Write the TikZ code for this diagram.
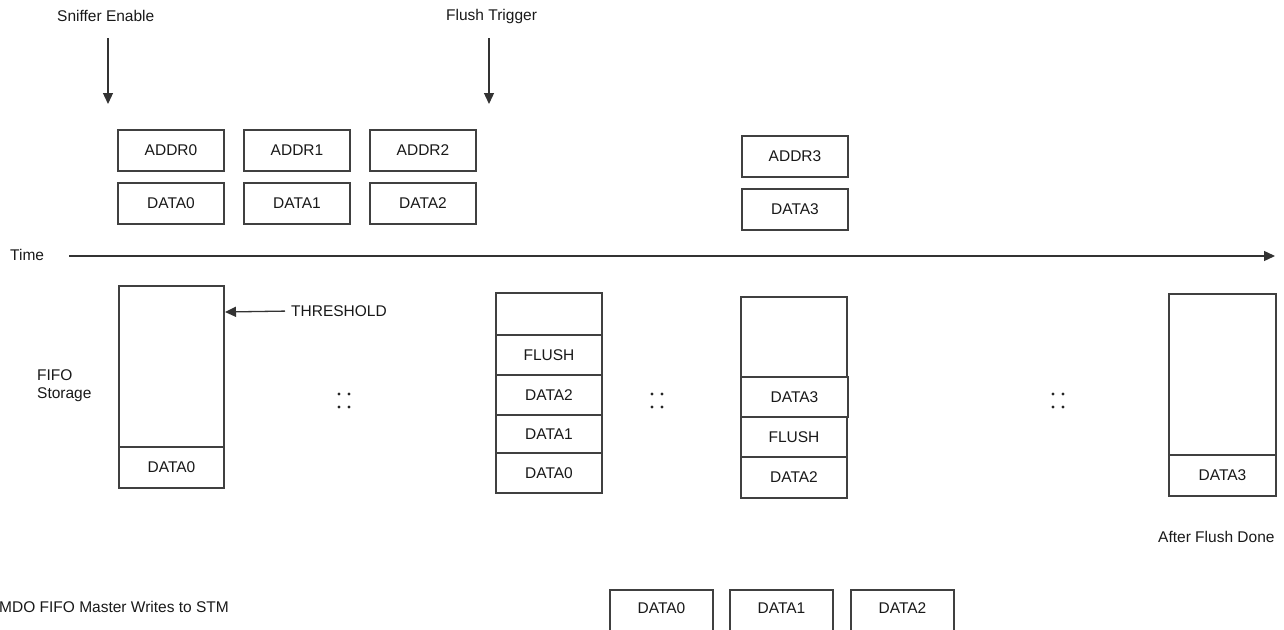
\documentclass[tikz,border=0pt]{standalone}
\usepackage{fontspec}
\setmainfont{Liberation Sans}
\usetikzlibrary{arrows.meta}
\begin{document}
\begin{tikzpicture}[x=1pt,y=-1pt,
  every node/.style={font=\fontsize{15.5}{18}\selectfont, inner sep=0pt, text=black!90},
  cell/.style={draw=black!75, line width=1.3pt, fill=white},
  lbl/.style={anchor=west},
  arr/.style={draw=black!80, line width=1.3pt, -{Triangle[length=11pt,width=10pt]}},
  dot/.style={fill=black!85, draw=none}]
\useasboundingbox (0,0) rectangle (1284,629);
% top labels
\node[lbl] (sniff) at (57,16) {Sniffer Enable};
\node[lbl] (flush) at (446,16) {Flush Trigger};
\coordinate (sa) at (108,38); \coordinate (sb) at (108,104);
\coordinate (fa) at (489,38); \coordinate (fb) at (489,104);
\draw[arr] (sa) -- (sb);
\draw[arr] (fa) -- (fb);
% address/data boxes
\foreach \n/\x in {0/118,1/244,2/370}{
  \draw[cell] (\x,130) rectangle ++(106,41);
  \node (addr\n) at (\x+53,150.5) {ADDR\n};
  \draw[cell] (\x,183) rectangle ++(106,41);
  \node (data\n) at (\x+53,203.5) {DATA\n};
}
\draw[cell] (742,136) rectangle (848,177); \node (addr3) at (795,156.5) {ADDR3};
\draw[cell] (742,189) rectangle (848,230); \node (data3) at (795,209.5) {DATA3};
% time axis
\node[lbl] (time) at (10,255) {Time};
\coordinate (ta) at (69,256); \coordinate (tb) at (1275,256);
\draw[arr] (ta) -- (tb);
% FIFO 1
\draw[cell] (119,286) rectangle (224,447);
\draw[cell] (119,447) rectangle (224,488); \node (f1d0) at (171.5,467.5) {DATA0};
\coordinate (thr) at (225,312);
\node[lbl] (thrl) at (291,311) {THRESHOLD};
\draw[arr, shorten <=6pt] (thrl.west) -- (thr);
\node[lbl, align=left] (fifo) at (37,386) {FIFO\\Storage};
% FIFO 2
\draw[cell] (496,293) rectangle (602,335);
\draw[cell] (496,335) rectangle (602,375); \node (f2fl) at (549,355) {FLUSH};
\draw[cell] (496,375) rectangle (602,415); \node (f2d2) at (549,395) {DATA2};
\draw[cell] (496,415) rectangle (602,453); \node (f2d1) at (549,434) {DATA1};
\draw[cell] (496,453) rectangle (602,493); \node (f2d0) at (549,473) {DATA0};
% FIFO 3
\draw[cell] (741,297) rectangle (847,377);
\draw[cell] (741,457) rectangle (847,498); \node (f3d2) at (794,477.5) {DATA2};
\draw[cell] (741,417) rectangle (847,457); \node (f3fl) at (794,437) {FLUSH};
\draw[cell] (741,377) rectangle (848,417); \node (f3d3) at (794.5,397) {DATA3};
% FIFO 4
\draw[cell] (1169,294) rectangle (1276,455);
\draw[cell] (1169,455) rectangle (1276,496); \node (f4d3) at (1222.5,475.5) {DATA3};
\node[lbl] (after) at (1158,537) {After Flush Done};
% dots
\foreach \cx in {344,657,1058}{
  \foreach \dx in {-5,5}{ \foreach \dy in {-6.5,6.5}{
    \fill[dot] (\cx+\dx,400.5+\dy) circle (1.7pt);
  }}
}
% bottom
\node[lbl] (mdo) at (-1,607) {MDO FIFO Master Writes to STM};
\foreach \n/\x in {0/610,1/730,2/851}{
  \draw[cell] (\x,590) rectangle ++(103,50);
  \node (out\n) at (\x+51.5,608) {DATA\n};
}
\end{tikzpicture}
\end{document}
